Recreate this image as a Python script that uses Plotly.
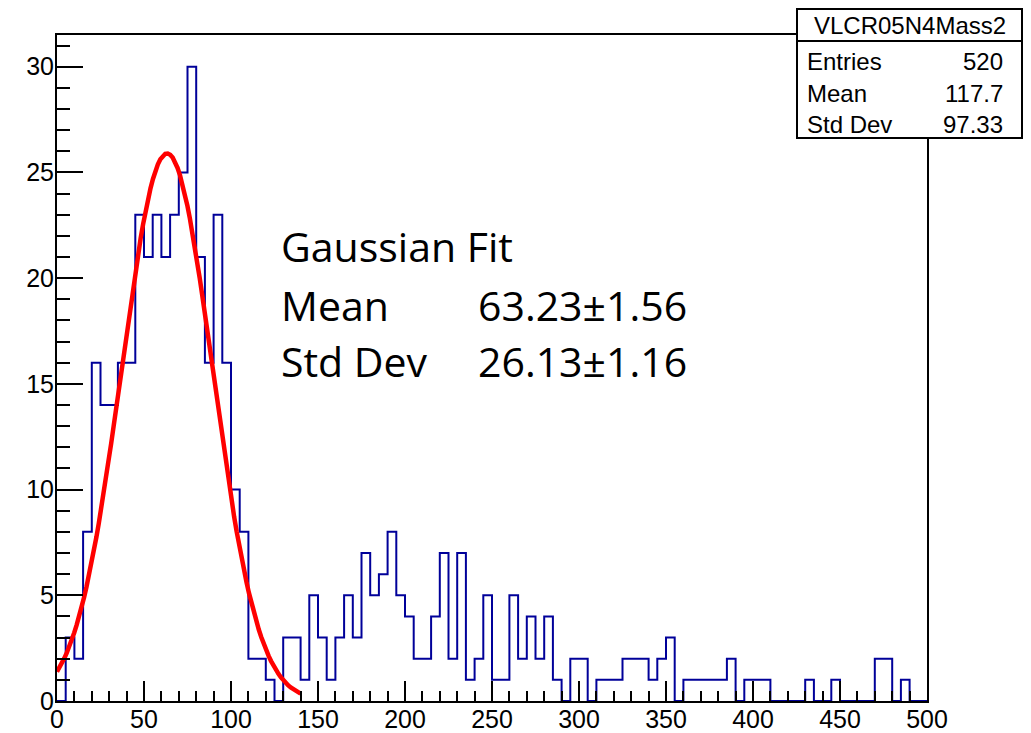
import numpy as np
import plotly.graph_objects as go

# ---------------- data ----------------
bin_width = 5
bin_lefts = list(range(0, 500, bin_width))
counts = [
    0, 3, 2, 8, 16, 14, 14, 16, 16, 23,
    21, 23, 21, 23, 25, 30, 21, 16, 23, 16,
    10, 8, 2, 2, 1, 0, 3, 3, 1, 5,
    3, 1, 3, 5, 3, 7, 5, 6, 8, 5,
    4, 2, 2, 4, 7, 2, 7, 1, 2, 5,
    1, 1, 5, 2, 4, 2, 4, 1, 0, 2,
    2, 0, 1, 1, 1, 2, 2, 2, 1, 2,
    3, 0, 1, 1, 1, 1, 1, 2, 0, 1,
    1, 1, 0, 0, 0, 0, 1, 0, 0, 1,
    0, 0, 0, 0, 2, 2, 0, 1, 0, 0,
]

# Gaussian fit parameters (shown on the chart)
fit_amplitude = 25.9
fit_mean = 63.23
fit_mean_err = 1.56
fit_sigma = 26.13
fit_sigma_err = 1.16
fit_xmin, fit_xmax = 0, 140

stats_title = "VLCR05N4Mass2"
stats_labels = ["Entries", "Mean", "Std Dev"]
stats_values = ["520", "117.7", "97.33"]

x_tickvals = list(range(0, 501, 50))
y_tickvals = list(range(0, 31, 5))

# ---------------- figure ----------------
OFF = 8  # page body margin in the browser
W, H = 1031 - OFF, 733 - OFF
L, R, T, B = 57 - OFF, 104, 35 - OFF, 32
PW, PH = W - L - R, H - T - B


def px(xp):  # page pixel -> paper x
    return (xp - OFF - L) / PW


def py(yp):  # page pixel -> paper y
    return (H - B - (yp - OFF)) / PH


edges = bin_lefts + [bin_lefts[-1] + bin_width]
step_y = counts + [counts[-1]]

fit_x = np.linspace(fit_xmin, fit_xmax, 100)
fit_y = fit_amplitude * np.exp(-0.5 * ((fit_x - fit_mean) / fit_sigma) ** 2)

fig = go.Figure()
fig.add_trace(go.Scatter(
    x=edges, y=step_y, mode="lines", line_shape="hv",
    line=dict(color="#000099", width=2), hoverinfo="skip", showlegend=False,
))
fig.add_trace(go.Scatter(
    x=fit_x, y=fit_y, mode="lines",
    line=dict(color="#ff0000", width=4.5), hoverinfo="skip", showlegend=False,
))

axis_font = dict(family="Liberation Sans, Arial, sans-serif", size=25, color="black")

fig.update_layout(
    width=W, height=H,
    margin=dict(l=L, r=R, t=T, b=B, autoexpand=False),
    paper_bgcolor="white", plot_bgcolor="white",
    showlegend=False,
    xaxis=dict(
        range=[0, 500], tickvals=x_tickvals, ticks="inside", ticklen=20,
        tickwidth=2, tickcolor="black", showline=True, linewidth=2,
        linecolor="black", mirror=True, showgrid=False, zeroline=False,
        tickfont=axis_font, automargin=False, ticklabelstandoff=-5,
        minor=dict(dtick=10, tick0=0, ticks="inside", ticklen=10,
                   tickwidth=2, tickcolor="black", showgrid=False),
    ),
    yaxis=dict(
        range=[0, 31.5], tickvals=y_tickvals, ticks="inside", ticklen=26,
        tickwidth=2, tickcolor="black", showline=True, linewidth=2,
        linecolor="black", mirror=True, showgrid=False, zeroline=False,
        tickfont=axis_font, automargin=False, ticklabelstandoff=-4,
        minor=dict(dtick=1, tick0=0, ticks="inside", ticklen=13,
                   tickwidth=2, tickcolor="black", showgrid=False),
    ),
)

# stats box
box_l, box_r, box_t, box_b, box_div = 797, 1022, 9, 138, 41
fig.add_shape(type="rect", xref="paper", yref="paper",
              x0=px(box_l), x1=px(box_r), y0=py(box_b), y1=py(box_t),
              line=dict(color="black", width=2), fillcolor="white", layer="above")
fig.add_shape(type="line", xref="paper", yref="paper",
              x0=px(box_l), x1=px(box_r), y0=py(box_div), y1=py(box_div),
              line=dict(color="black", width=2), layer="above")

stat_font = dict(family="Liberation Sans, Arial, sans-serif", size=24, color="black")
fig.add_annotation(xref="paper", yref="paper", x=px((box_l + box_r) / 2), y=py(25),
                   text=stats_title, showarrow=False, xanchor="center",
                   yanchor="middle", font=stat_font)
row_y = [61, 94, 124]
for lab, val, yy in zip(stats_labels, stats_values, row_y):
    fig.add_annotation(xref="paper", yref="paper", x=px(805), y=py(yy), text=lab,
                       showarrow=False, xanchor="left", yanchor="middle", font=stat_font)
    fig.add_annotation(xref="paper", yref="paper", x=px(1005), y=py(yy), text=val,
                       showarrow=False, xanchor="right", yanchor="middle", font=stat_font)

# Gaussian fit text
fit_font = dict(family="Open Sans, Noto Sans, sans-serif", size=41, color="black")
fit_lines = [
    ("Gaussian Fit", None, 246),
    ("Mean", f"{fit_mean:.2f}\u00b1{fit_mean_err:.2f}", 305),
    ("Std Dev", f"{fit_sigma:.2f}\u00b1{fit_sigma_err:.2f}", 361),
]
for lab, val, yy in fit_lines:
    fig.add_annotation(xref="paper", yref="paper", x=px(279), y=py(yy), text=lab,
                       showarrow=False, xanchor="left", yanchor="middle", font=fit_font)
    if val:
        fig.add_annotation(xref="paper", yref="paper", x=px(689), y=py(yy), text=val,
                           showarrow=False, xanchor="right", yanchor="middle", font=fit_font)

fig.write_html("out.html")
